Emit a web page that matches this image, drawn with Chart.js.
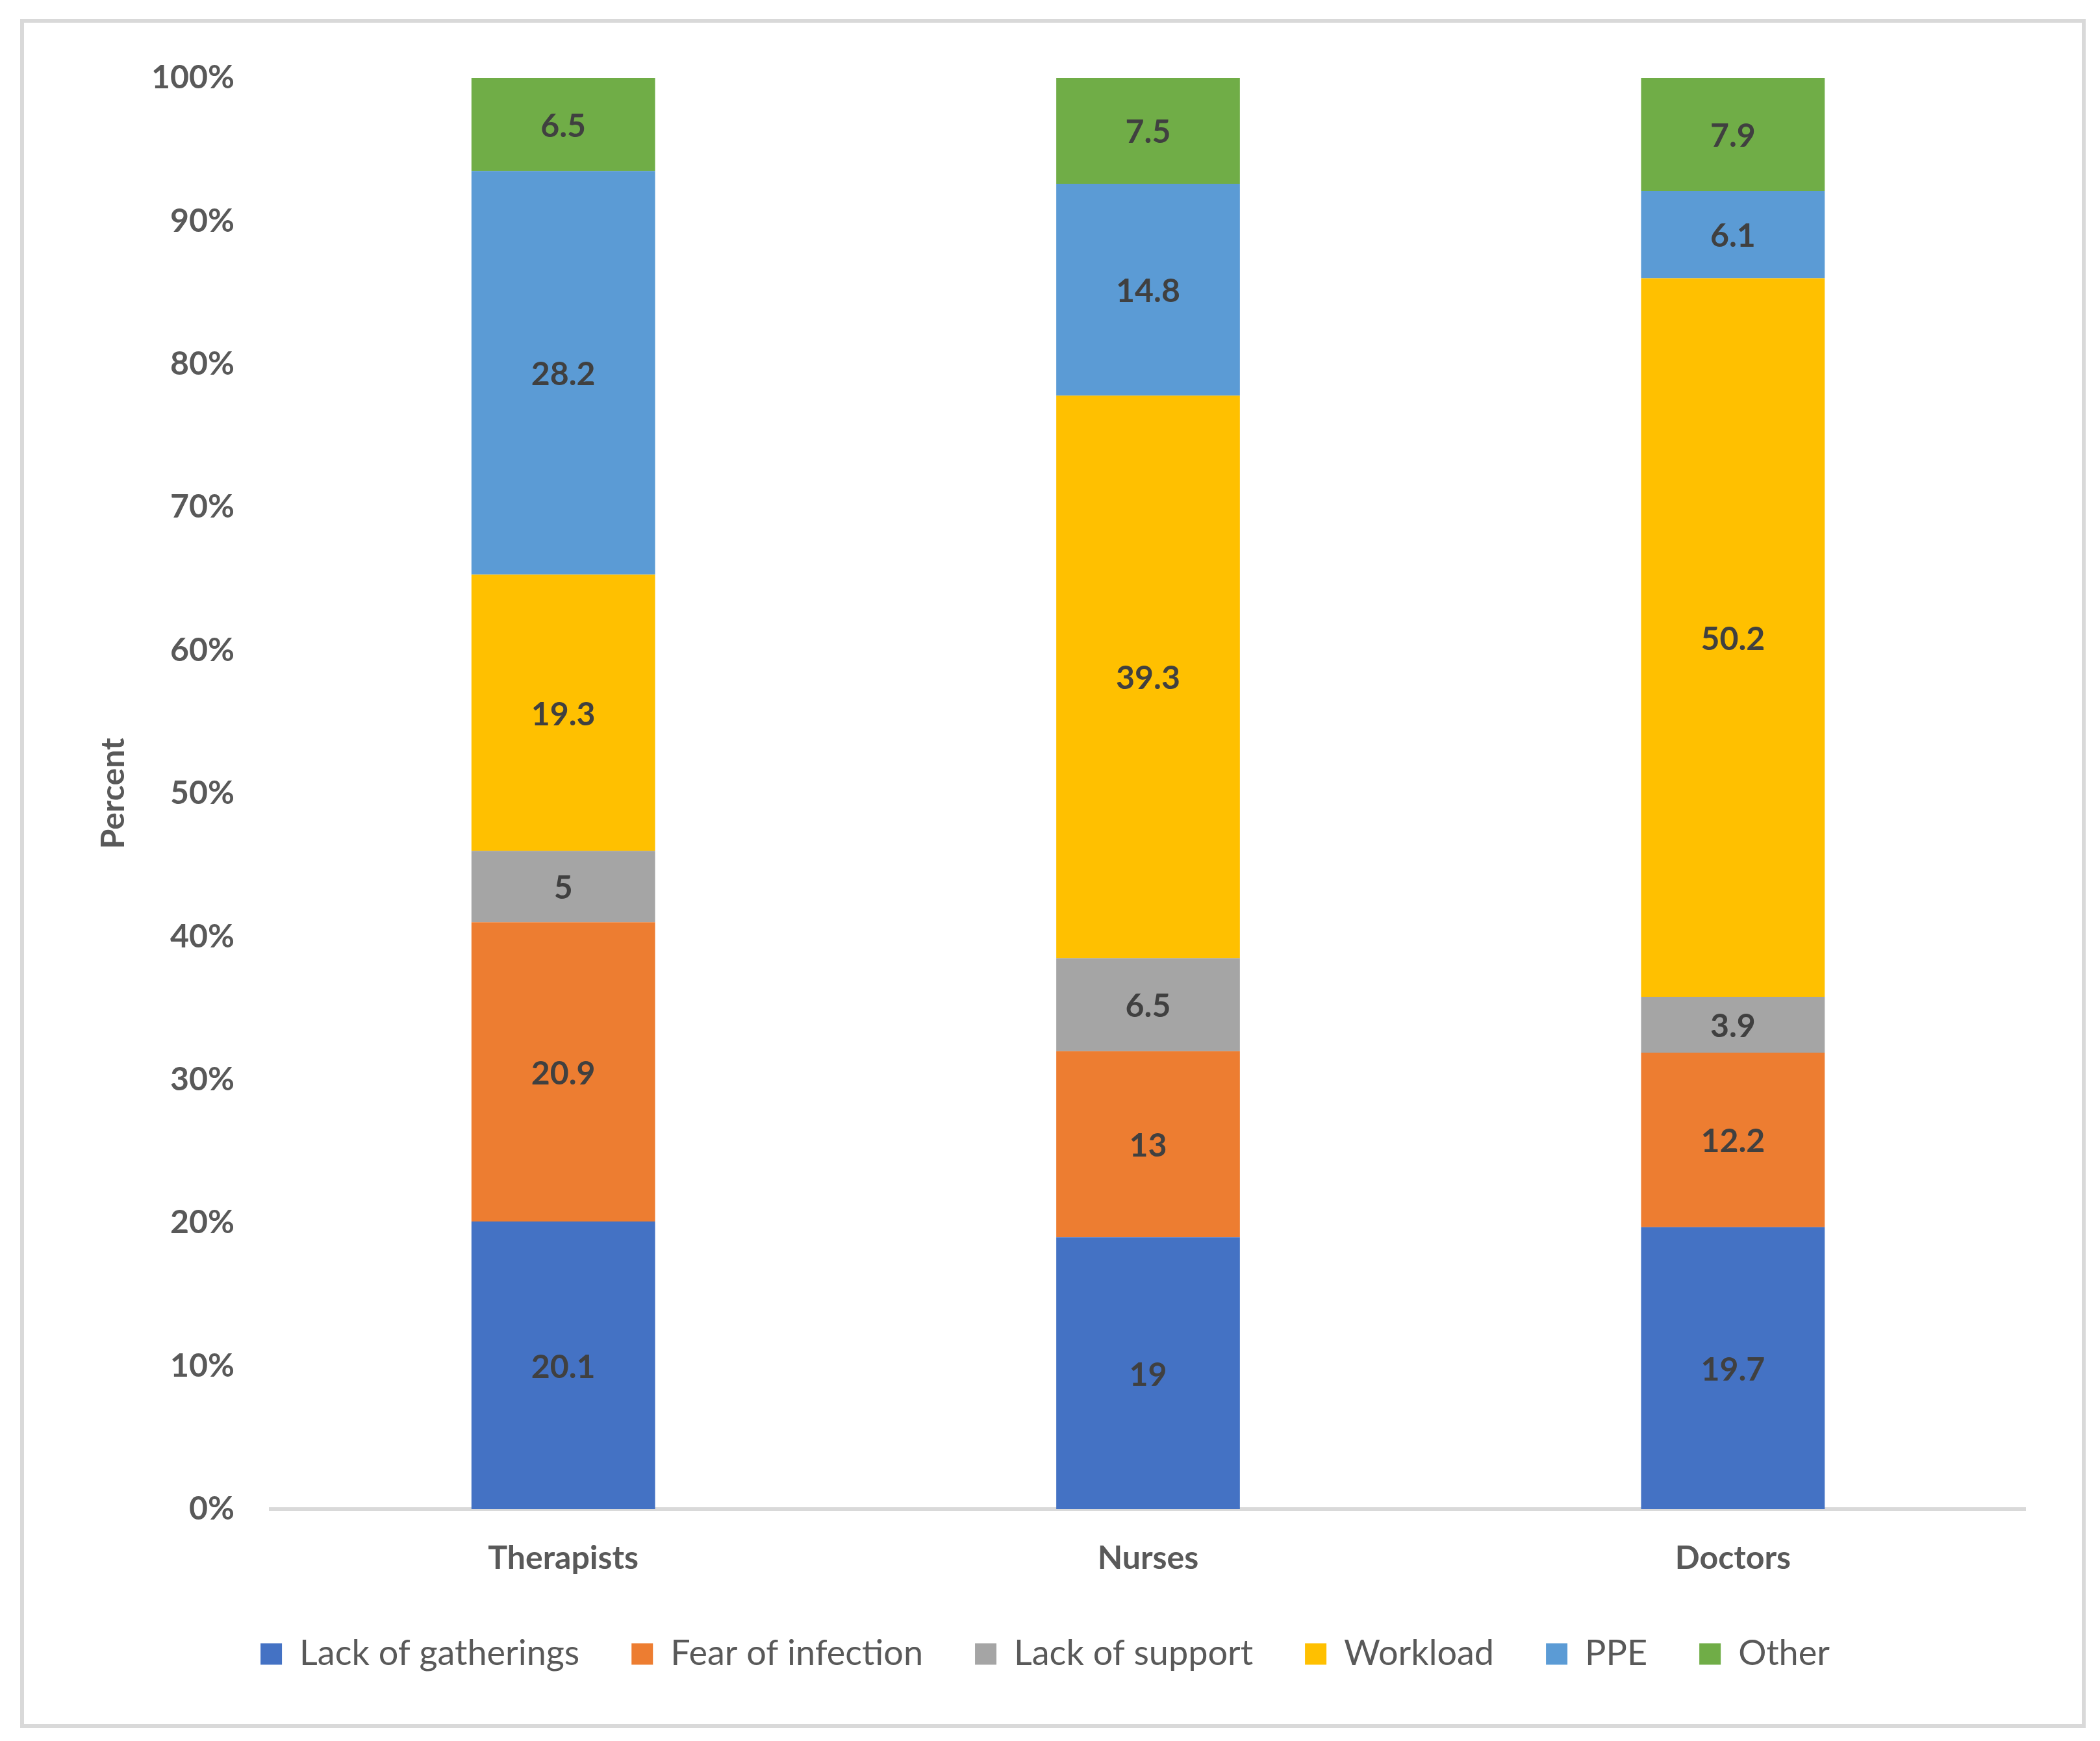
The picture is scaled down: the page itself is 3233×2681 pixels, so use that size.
<!DOCTYPE html>
<html>
<head>
<meta charset="utf-8">
<script src="https://cdn.jsdelivr.net/npm/chart.js@4/dist/chart.umd.min.js"></script>
<style>
  html, body { margin: 0; padding: 0; background: #fff; }
  #wrap { width: 3233px; height: 2681px; }
</style>
</head>
<body>
<div id="wrap"><canvas id="chart"></canvas></div>
<script>
// categorias e valores (percentagens por grupo)
const categories = ['Therapists', 'Nurses', 'Doctors'];
const seriesNames = ['Lack of gatherings', 'Fear of infection', 'Lack of support', 'Workload', 'PPE', 'Other'];
const lackOfGatherings = [20.1, 19, 19.7];
const fearOfInfection = [20.9, 13, 12.2];
const lackOfSupport = [5, 6.5, 3.9];
const workload = [19.3, 39.3, 50.2];
const ppe = [28.2, 14.8, 6.1];
const other = [6.5, 7.5, 7.9];
const yTicks = [0, 10, 20, 30, 40, 50, 60, 70, 80, 90, 100];

const colors = ['#4472C4', '#ED7D31', '#A5A5A5', '#FFC000', '#5B9BD5', '#70AD47'];
const seriesValues = [lackOfGatherings, fearOfInfection, lackOfSupport, workload, ppe, other];

// moldura cinza em volta do gráfico
const framePlugin = {
  id: 'frame',
  beforeDraw(chart) {
    const ctx = chart.ctx;
    ctx.save();
    ctx.fillStyle = '#fff';
    ctx.fillRect(0, 0, chart.width, chart.height);
    ctx.strokeStyle = '#D9D9D9';
    ctx.lineWidth = 6;
    ctx.strokeRect(34, 32, 3174, 2626);
    ctx.restore();
  }
};

// rótulos no centro de cada segmento
const segmentLabels = {
  id: 'segmentLabels',
  afterDatasetsDraw(chart) {
    const ctx = chart.ctx;
    ctx.save();
    ctx.font = 'bold 50px Lato';
    ctx.fillStyle = '#404040';
    ctx.textAlign = 'center';
    ctx.textBaseline = 'middle';
    chart.data.datasets.forEach((ds, i) => {
      chart.getDatasetMeta(i).data.forEach((bar, j) => {
        const y = (bar.y + bar.base) / 2;
        ctx.fillText(String(ds.data[j]), bar.x, y + 3);
      });
    });
    ctx.restore();
  }
};

const ctx = document.getElementById('chart').getContext('2d');
new Chart(ctx, {
  type: 'bar',
  data: {
    labels: categories,
    datasets: seriesNames.map((name, i) => ({
      label: name,
      data: seriesValues[i],
      backgroundColor: colors[i],
      borderWidth: 0,
      barPercentage: 1,
      categoryPercentage: 0.314
    }))
  },
  options: {
    responsive: true,
    maintainAspectRatio: false,
    animation: false,
    devicePixelRatio: 1,
    layout: { padding: { left: 100, right: 115, top: 120, bottom: 97 } },
    plugins: {
      legend: {
        position: 'bottom',
        labels: {
          boxWidth: 33,
          boxHeight: 33,
          padding: 80,
          color: '#595959',
          font: { family: 'Lato', size: 54, weight: 'normal' }
        }
      },
      tooltip: { enabled: false }
    },
    scales: {
      x: {
        stacked: true,
        grid: { display: false, drawTicks: false, tickLength: 0 },
        border: { display: true, color: '#D9D9D9', width: 6 },
        ticks: {
          padding: 46,
          color: '#595959',
          font: { family: 'Lato', size: 50, weight: 'bold' }
        },
        afterFit(scale) { scale.height = 116; }
      },
      y: {
        stacked: true,
        min: 0,
        max: 100,
        afterBuildTicks(scale) { scale.ticks = yTicks.map(v => ({ value: v })); },
        grid: { display: false, drawTicks: false, tickLength: 0 },
        border: { display: false },
        ticks: {
          padding: 56,
          color: '#595959',
          font: { family: 'Lato', size: 50, weight: 'bold' },
          callback: v => v + '%'
        },
        title: {
          display: true,
          text: 'Percent',
          color: '#595959',
          padding: { top: 45, bottom: 0 },
          font: { family: 'Lato', size: 50, weight: 'bold' }
        },
        afterFit(scale) { scale.width = 317; }
      }
    }
  },
  plugins: [framePlugin, segmentLabels]
});
</script>
</body>
</html>
